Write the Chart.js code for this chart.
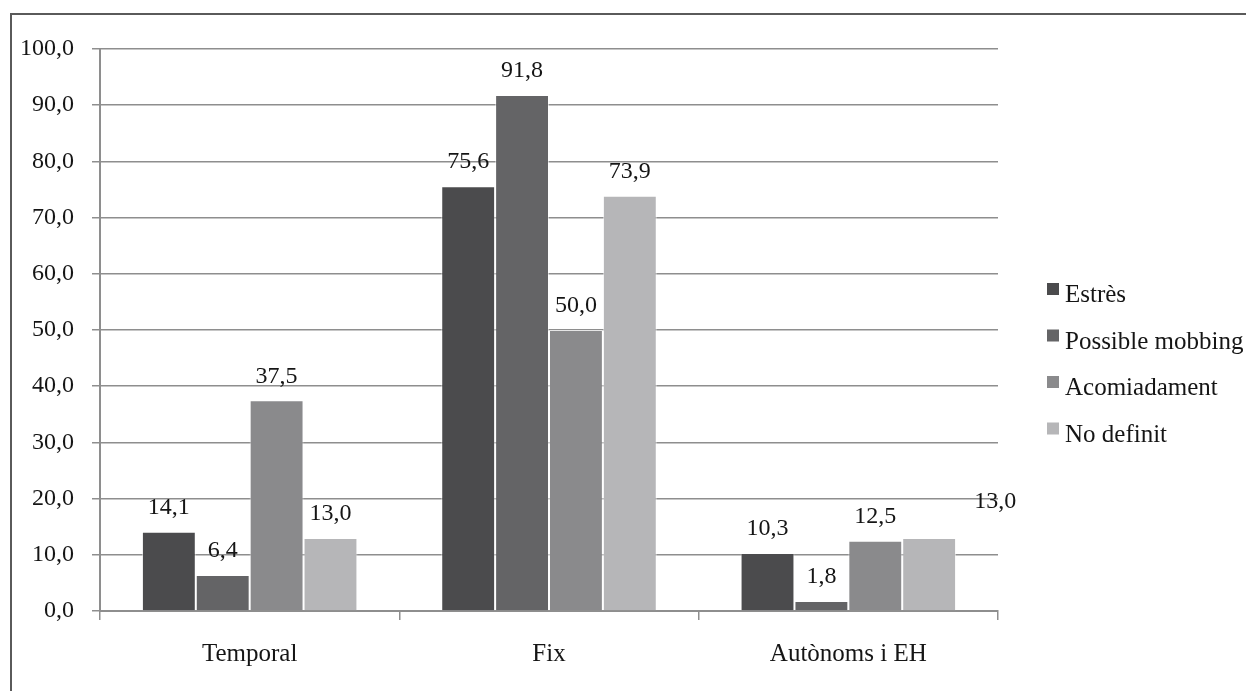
<!DOCTYPE html>
<html lang="ca">
<head>
    <meta charset="UTF-8">
    <title>Estrès, mobbing i acomiadament per tipus de contracte</title>
    <script src="https://cdn.jsdelivr.net/npm/chart.js"></script>
    <style>
        body { margin: 0; background: #fff; overflow: hidden; }
        #frame {
            position: absolute; left: 10px; top: 13px;
            width: 1300px; height: 760px;
            border-left: 2px solid #5a5a5a; border-top: 2px solid #5a5a5a;
        }
        #chart { position: absolute; left: 0; top: 0; }
    </style>
</head>
<body>
    <div id="frame"></div>
    <canvas id="chart" width="1246" height="691"></canvas>

    <script>
        // --- Dades ---
        const categories = ['Temporal', 'Fix', 'Autònoms i EH'];
        const seriesNames = ['Estrès', 'Possible mobbing', 'Acomiadament', 'No definit'];
        const estres = [14.1, 75.6, 10.3];
        const mobbing = [6.4, 91.8, 1.8];
        const acomiadament = [37.5, 50.0, 12.5];
        const noDefinit = [13.0, 73.9, 13.0];
        const yTicks = [0, 10, 20, 30, 40, 50, 60, 70, 80, 90, 100];

        const colors = ['#4b4b4d', '#646466', '#8a8a8c', '#b6b6b8'];
        const serif = '"Liberation Serif", "Times New Roman", serif';
        const textColor = '#151515';
        const fmt = v => v.toFixed(1).replace('.', ',');

        // etiquetes de valor damunt de cada barra
        const valueLabels = {
            id: 'valueLabels',
            afterDatasetsDraw(chart) {
                const ctx = chart.ctx;
                ctx.save();
                ctx.font = '24px ' + serif;
                ctx.fillStyle = textColor;
                ctx.textAlign = 'center';
                ctx.textBaseline = 'middle';
                chart.data.datasets.forEach((ds, di) => {
                    chart.getDatasetMeta(di).data.forEach((bar, i) => {
                        let dx = 0, dy = 0;
                        // l'etiqueta desplaçada de l'original (No definit, Autònoms)
                        if (di === 3 && i === 2) { dx = 66; dy = -12; }
                        ctx.fillText(fmt(ds.data[i]), bar.x + dx, bar.y - 24 + dy);
                    });
                });
                ctx.restore();
            }
        };

        // llegenda a la dreta, dibuixada a mà
        const sideLegend = {
            id: 'sideLegend',
            afterDraw(chart) {
                const ctx = chart.ctx;
                const area = chart.chartArea;
                ctx.save();
                ctx.font = '25px ' + serif;
                ctx.textBaseline = 'alphabetic';
                ctx.textAlign = 'left';
                chart.data.datasets.forEach((ds, i) => {
                    const top = area.top + 234 + i * 46.5;
                    ctx.fillStyle = ds.backgroundColor;
                    ctx.fillRect(area.right + 49, top, 12, 12);
                    ctx.fillStyle = textColor;
                    ctx.fillText(ds.label, area.right + 67, top + 19);
                });
                ctx.restore();
            }
        };

        const seriesData = [estres, mobbing, acomiadament, noDefinit];

        new Chart(document.getElementById('chart'), {
            type: 'bar',
            data: {
                labels: categories,
                datasets: seriesNames.map((name, i) => ({
                    label: name,
                    data: seriesData[i],
                    backgroundColor: colors[i],
                    borderColor: 'rgba(255,255,255,0.55)',
                    borderWidth: 1,
                    categoryPercentage: 0.72,
                    barPercentage: 1.0
                }))
            },
            options: {
                responsive: false,
                animation: false,
                layout: { padding: { top: 49, right: 248, bottom: 0, left: 0 } },
                scales: {
                    x: {
                        grid: {
                            drawOnChartArea: false,
                            drawTicks: true,
                            tickLength: 9,
                            color: '#8e8e8e',
                            lineWidth: 1.5
                        },
                        border: { display: true, color: '#8e8e8e', width: 2 },
                        ticks: {
                            padding: 19,
                            color: textColor,
                            font: { family: serif, size: 25 }
                        },
                        afterFit(scale) { scale.height = 80; }
                    },
                    y: {
                        min: 0,
                        max: 100,
                        afterBuildTicks(scale) {
                            scale.ticks = yTicks.map(v => ({ value: v }));
                        },
                        grid: {
                            color: '#8e8e8e',
                            lineWidth: 1.5,
                            drawTicks: true,
                            tickLength: 8
                        },
                        border: { display: true, color: '#8e8e8e', width: 2 },
                        ticks: {
                            padding: 18,
                            color: textColor,
                            font: { family: serif, size: 24 },
                            callback: v => fmt(v)
                        },
                        afterFit(scale) { scale.width = 100; }
                    }
                },
                plugins: {
                    legend: { display: false },
                    tooltip: { enabled: false }
                }
            },
            plugins: [valueLabels, sideLegend]
        });
    </script>
</body>
</html>
